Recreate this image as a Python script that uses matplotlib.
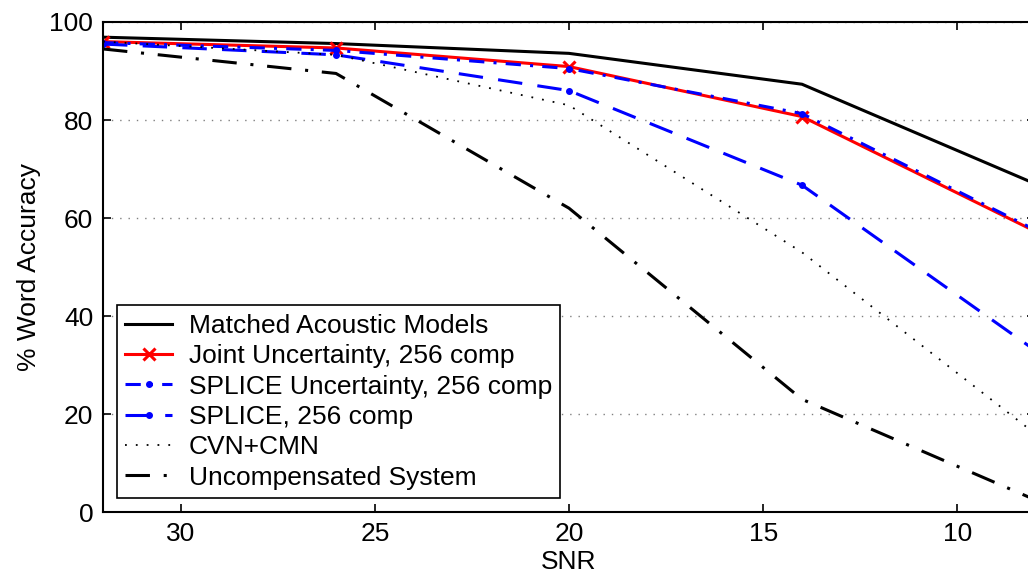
import matplotlib.pyplot as plt

snr = [32, 26, 20, 14, 8]
matched = [96.9, 95.6, 93.6, 87.3, 67.0]
joint = [96.0, 94.7, 90.9, 80.7, 57.3]
splice_unc = [95.8, 94.2, 90.5, 81.3, 57.6]
splice = [95.5, 93.3, 86.0, 66.7, 33.0]
cvn_cmn = [96.0, 93.3, 83.0, 53.0, 16.0]
uncomp = [94.5, 89.5, 62.0, 23.0, 2.5]

plt.rcParams['font.family'] = ['Liberation Sans', 'DejaVu Sans']

fig = plt.figure(figsize=(10.28, 5.83), dpi=100)
W, H = 1028, 583
ax = fig.add_axes([103 / W, 1 - 512 / H, (1035 - 103) / W, (512 - 22) / H])

ax.plot(snr, matched, color='black', lw=2.2, label='Matched Acoustic Models')
ax.plot(snr, joint, color='red', lw=2.2, marker='x', ms=9, mew=2.2,
        label='Joint Uncertainty, 256 comp')
ax.plot(snr, splice_unc, color='blue', lw=2.2, ls=(0, (5, 3, 1, 3)),
        marker='.', ms=8, label='SPLICE Uncertainty, 256 comp')
ax.plot(snr, splice, color='blue', lw=2.2, ls=(0, (8, 5)), marker='.', ms=8,
        label='SPLICE, 256 comp')
ax.plot(snr, cvn_cmn, color='black', lw=1.3, ls=(0, (1, 5)), label='CVN+CMN')
ax.plot(snr, uncomp, color='black', lw=2.2, ls=(0, (8, 4.5, 1, 4.5)),
        label='Uncompensated System')

ax.set_xlim(32, 8)
ax.set_ylim(0, 100)
ax.set_xticks([30, 25, 20, 15, 10])
ax.set_yticks([0, 20, 40, 60, 80, 100])
ax.tick_params(direction='in', length=6, width=1.2, labelsize=19,
               top=True, right=True, pad=7)
ax.yaxis.grid(True, linestyle=(0, (1, 5)), color='gray', lw=1)
for s in ax.spines.values():
    s.set_linewidth(1.5)

ax.set_xlabel('SNR', fontsize=19, labelpad=3)
ax.set_ylabel('% Word Accuracy', fontsize=19, labelpad=6)

leg = ax.legend(loc='lower left', bbox_to_anchor=(14 / 932, 14 / 490),
                fontsize=19, frameon=True, fancybox=False, edgecolor='black',
                framealpha=1, handlelength=1.75, handletextpad=0.65,
                borderpad=0.32, labelspacing=0.24, borderaxespad=0)
leg.get_frame().set_linewidth(1.2)

fig.savefig('out.png', dpi=100)
